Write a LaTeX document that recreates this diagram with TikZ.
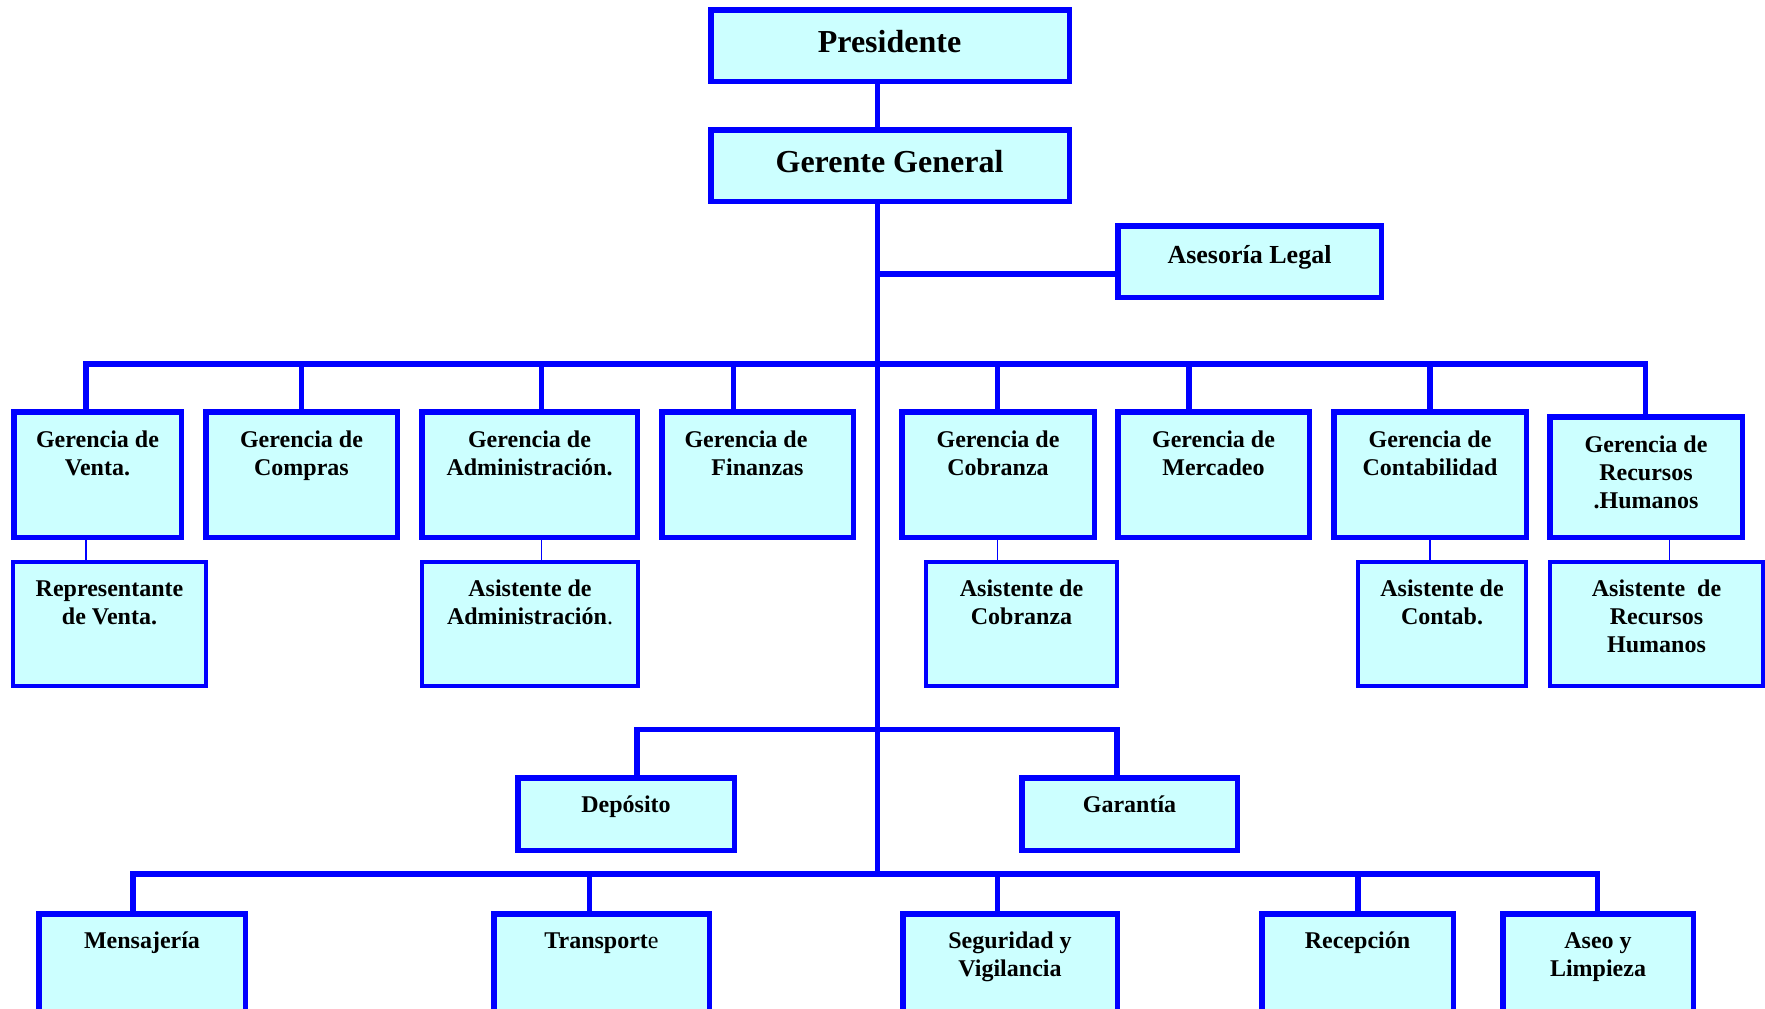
\documentclass[tikz,border=0pt]{standalone}
\usepackage{fontspec}
\setmainfont{Liberation Serif}
\definecolor{bxblue}{HTML}{0000FF}
\definecolor{bxfill}{HTML}{CCFFFF}
\tikzset{
  boxA/.style={draw=bxblue, fill=bxfill, line width=5.5pt, inner sep=0pt, outer sep=0pt},
  boxB/.style={draw=bxblue, fill=bxfill, line width=4pt, inner sep=0pt, outer sep=0pt},
  conn/.style={draw=bxblue, line width=5.5pt, line cap=rect},
  thinconn/.style={draw=bxblue, line width=1.6pt},
  lbl/.style={inner sep=0pt, outer sep=0pt, align=center, anchor=north,
    font=\fontsize{24}{28}\selectfont\bfseries},
  lblone/.style={inner sep=0pt, outer sep=0pt, anchor=base, font=\bfseries},
}
\newcommand\BoxA[5]{\node[boxA, minimum width={(#4-#2-5.5)*1pt}, minimum height={(#5-#3-5.5)*1pt}] (#1) at ({(#2+#4)/2},{(#3+#5)/2}) {};}
\newcommand\BoxB[5]{\node[boxB, minimum width={(#4-#2-4)*1pt}, minimum height={(#5-#3-4)*1pt}] (#1) at ({(#2+#4)/2},{(#3+#5)/2}) {};}
\newcommand\fl{\rule{0pt}{20pt}}
\newcommand\Txt[4]{\node[lbl] (#1) at (#2,{#3-20}) {\fl #4};}
\begin{document}
\begin{tikzpicture}[x=1pt,y=-1pt]
\useasboundingbox (0,0) rectangle (1765,1009);
\clip (0,0) rectangle (1765,1009);
% boxes
\BoxA{pres}{708}{7}{1072}{84}
\BoxA{gg}{708}{127}{1072}{204}
\BoxA{ases}{1115}{223}{1384}{300}
\BoxA{v}{11}{409}{184}{540}
\BoxA{c}{203}{409}{400}{540}
\BoxA{ad}{419}{409}{640}{540}
\BoxA{f}{659}{409}{856}{540}
\BoxA{co}{899}{409}{1097}{540}
\BoxA{m}{1115}{409}{1312}{540}
\BoxA{ct}{1331}{409}{1529}{540}
\BoxA{rh}{1547}{414}{1745}{540}
\BoxB{rv}{11}{560}{208}{688}
\BoxB{aa}{420}{560}{640}{688}
\BoxB{ac}{924}{560}{1119}{688}
\BoxB{act}{1356}{560}{1528}{688}
\BoxB{arh}{1548}{560}{1765}{688}
\BoxA{dep}{515}{775}{737}{853}
\BoxA{gar}{1019}{775}{1240}{853}
\BoxA{me}{36}{911}{248}{1040}
\BoxA{tr}{491}{911}{712}{1040}
\BoxA{se}{900}{911}{1120}{1040}
\BoxA{re}{1259}{911}{1456}{1040}
\BoxA{as}{1500}{911}{1696}{1040}
% junction coordinates
\coordinate (asj) at (877.5,274);
\coordinate (bar1) at (877.5,364);
\coordinate (bar2) at (877.5,729.3);
\coordinate (bar3) at (877.5,874);
\coordinate (jv) at (86,364);
\coordinate (jc) at (301.6,364);
\coordinate (jad) at (541.5,364);
\coordinate (jf) at (733.7,364);
\coordinate (jco) at (997.5,364);
\coordinate (jm) at (1189,364);
\coordinate (jct) at (1430,364);
\coordinate (jrh) at (1645.5,364);
\coordinate (jrh2) at (1669.4,540);
\coordinate (jd) at (637,729.3);
\coordinate (jg) at (1117,729.3);
\coordinate (jme) at (133.2,874);
\coordinate (jtr) at (589.5,874);
\coordinate (jse) at (997.4,874);
\coordinate (jre) at (1358,874);
\coordinate (jas) at (1597.3,874);
% connectors
\draw[conn] (pres.south -| bar1) -- (gg.north -| bar1);
\draw[conn] (gg.south -| bar1) -- (bar3);
\draw[conn] (asj) -- (asj -| ases.west);
\draw[conn] (jv) -- (jrh);
\foreach \j/\b in {jv/v, jc/c, jad/ad, jf/f, jco/co, jm/m, jct/ct, jrh/rh}
  \draw[conn] (\j) -- (\j |- \b.north);
\draw[thinconn] (v.south -| jv) -- (rv.north -| jv);
\draw[thinconn] (ad.south -| jad) -- (aa.north -| jad);
\draw[thinconn] (co.south -| jco) -- (ac.north -| jco);
\draw[thinconn] (ct.south -| jct) -- (act.north -| jct);
\draw[thinconn] (rh.south -| jrh2) -- (arh.north -| jrh2);
\draw[conn] (jd) -- (jg);
\draw[conn] (jd) -- (jd |- dep.north);
\draw[conn] (jg) -- (jg |- gar.north);
\draw[conn] (jme) -- (jas);
\foreach \j/\b in {jme/me, jtr/tr, jse/se, jre/re, jas/as}
  \draw[conn] (\j) -- (\j |- \b.north);
% texts
\node[lblone, font=\fontsize{32}{36}\selectfont\bfseries] (presT) at (889.5,52.7) {Presidente};
\node[lblone, font=\fontsize{32}{36}\selectfont\bfseries] (ggT) at (889.5,172.7) {Gerente General};
\node[lblone, font=\fontsize{26}{30}\selectfont\bfseries] (asesT) at (1249.5,263.3) {Asesoría Legal};
\Txt{vT}{97.5}{447.7}{Gerencia de\\Venta.}
\Txt{cT}{301.5}{447.7}{Gerencia de\\Compras}
\Txt{adT}{529.5}{447.7}{Gerencia de\\Administración.}
\Txt{fT}{757.5}{447.7}{Gerencia de\hspace*{23pt}\\Finanzas}
\Txt{coT}{998}{447.7}{Gerencia de\\Cobranza}
\Txt{mT}{1213.5}{447.7}{Gerencia de\\Mercadeo}
\Txt{ctT}{1430}{447.7}{Gerencia de\\Contabilidad}
\Txt{rhT}{1646}{452.7}{Gerencia de\\Recursos\\.Humanos}
\Txt{rvT}{109.5}{596}{Representante\\de Venta.}
\Txt{aaT}{530}{596}{Asistente de\\Administración{\mdseries.}}
\Txt{acT}{1021.5}{596}{Asistente de\\Cobranza}
\Txt{actT}{1442}{596}{Asistente de\\Contab.}
\Txt{arhT}{1656.5}{596}{Asistente\ \ de\\Recursos\\Humanos}
\node[lblone, font=\fontsize{24}{28}\selectfont\bfseries] (depT) at (626,812.7) {Depósito};
\node[lblone, font=\fontsize{24}{28}\selectfont\bfseries] (garT) at (1129.5,812.7) {Garantía};
\Txt{meT}{142}{948}{Mensajería}
\Txt{trT}{601.5}{948}{Transport{\mdseries e}}
\Txt{seT}{1010}{948}{Seguridad y\\Vigilancia}
\Txt{reT}{1357.5}{948}{Recepción}
\Txt{asT}{1598}{948}{Aseo y\\Limpieza}
\end{tikzpicture}
\end{document}
